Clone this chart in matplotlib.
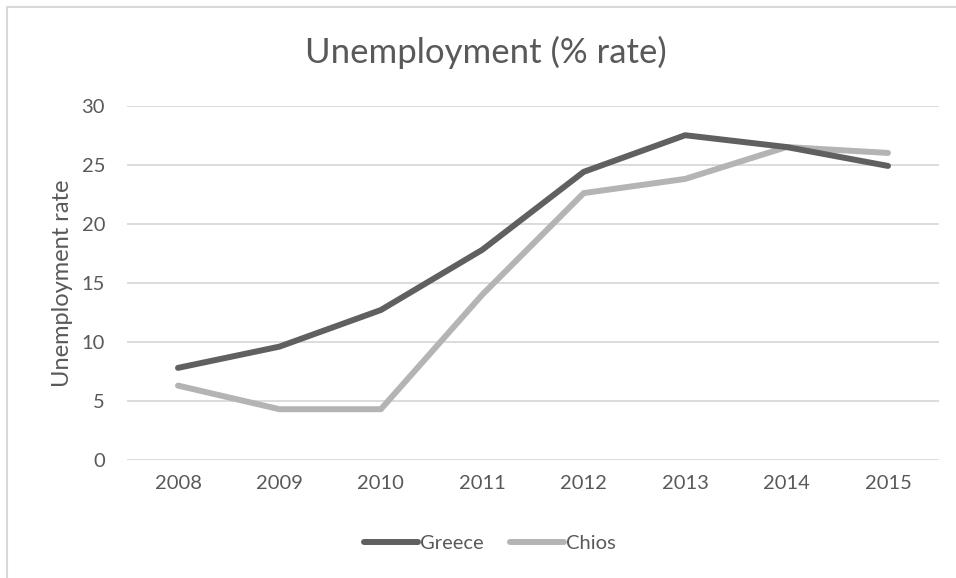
import matplotlib.pyplot as plt
from matplotlib.patches import Rectangle

years = ["2008", "2009", "2010", "2011", "2012", "2013", "2014", "2015"]
greece = [7.8, 9.6, 12.7, 17.8, 24.4, 27.5, 26.5, 24.9]
chios = [6.3, 4.3, 4.3, 14.0, 22.6, 23.8, 26.5, 26.0]

txt = "#595959"
plt.rcParams["font.family"] = ["Lato", "DejaVu Sans"]

fig = plt.figure(figsize=(9.56, 5.78), dpi=100)
ax = fig.add_axes([127.3 / 956, 118 / 578, 811.4 / 956, 354.3 / 578])

# light frame round the whole chart, running off the right and bottom edges
fig.patches.append(Rectangle((7 / 956, -0.05), 1.1, (578 - 6.5) / 578 + 0.05,
                             transform=fig.transFigure, fill=False,
                             edgecolor="#d9d9d9", linewidth=1.5))

x = range(len(years))
ax.plot(x, greece, color="#606060", lw=4.3, solid_capstyle="round",
        solid_joinstyle="round", label="Greece", zorder=3)
ax.plot(x, chios, color="#b4b4b4", lw=4.3, solid_capstyle="round",
        solid_joinstyle="round", label="Chios", zorder=2)

ax.set_xlim(-0.5, len(years) - 0.5)
ax.set_ylim(0, 30)
ax.set_yticks(range(0, 31, 5))
ax.set_xticks(list(x))
ax.set_xticklabels(years)
ax.grid(axis="y", color="#d9d9d9", lw=1.3)
ax.set_axisbelow(True)
for s in ax.spines.values():
    s.set_visible(False)
ax.tick_params(axis="y", length=0, labelsize=14.5, colors=txt, pad=16)
ax.tick_params(axis="x", length=0, labelsize=14.5, colors=txt, pad=11)

ax.set_ylabel("Unemployment rate", fontsize=17, color=txt, labelpad=6)
fig.text(486 / 956, 1 - 52 / 578, "Unemployment (% rate)", ha="center",
         va="center", fontsize=25, color=txt)

fig.legend(loc="center", bbox_to_anchor=(490 / 956, 1 - 543 / 578), ncol=2,
           frameon=False, fontsize=14.5, labelcolor=txt, handlelength=2.7,
           handletextpad=0.1, columnspacing=1.3)

fig.savefig("out.png", dpi=100)
